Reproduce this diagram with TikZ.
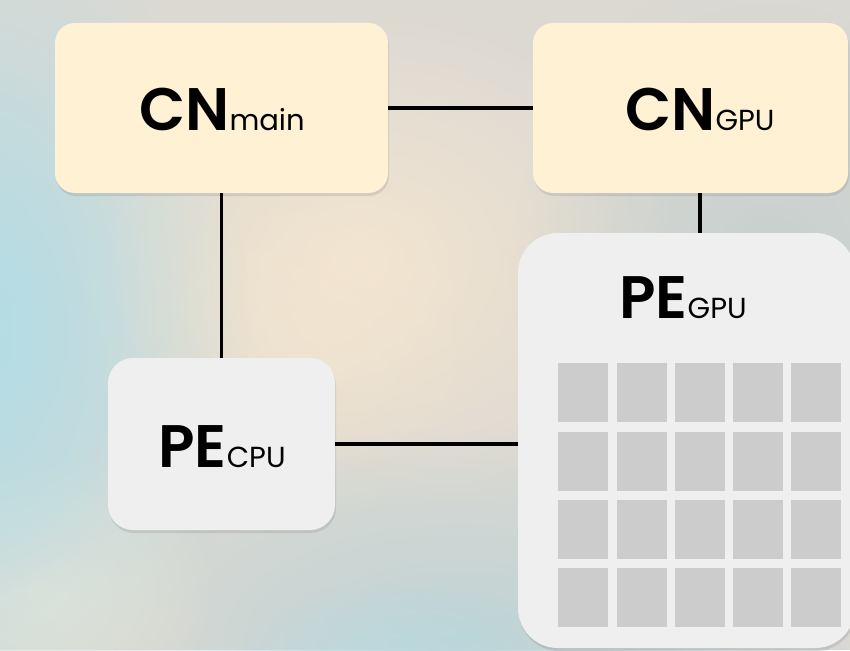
\documentclass[tikz,border=0pt]{standalone}
\usepackage{fontspec}
\setmainfont{Poppins}
\newfontface\popsemi{Poppins SemiBold}
\usetikzlibrary{shadows,fadings,calc}
\tikzfading[name=blobfade, inner color=transparent!0, outer color=transparent!100]
\definecolor{bgbase}{HTML}{DCD9D3}
\definecolor{bgblue}{HTML}{B5DDE5}
\definecolor{bgpeach}{HTML}{F3E5D0}
\definecolor{bgslate}{HTML}{BFD3D5}
\definecolor{bggray}{HTML}{C6D0CF}
\definecolor{bgbeige}{HTML}{ECE5D6}
\definecolor{cncream}{HTML}{FFF2D4}
\definecolor{pefill}{HTML}{EFEFEF}
\definecolor{cellgray}{HTML}{CCCCCC}
\newcommand\mylbl[2]{{\fontsize{60}{60}\popsemi #1}{\fontsize{29}{29}\selectfont #2}}
\begin{document}
\begin{tikzpicture}[x=1pt,y=-1pt,
  blob/.style={path fading=blobfade},
  boxbase/.style={draw=none, inner sep=0pt, outer sep=0pt,
    drop shadow={shadow xshift=1pt, shadow yshift=-3pt, opacity=0.22}},
  cnbox/.style={boxbase, fill=cncream, rounded corners=20pt},
  pebox/.style={boxbase, fill=pefill},
  cell/.style={fill=cellgray, draw=none, inner sep=0pt, minimum width=50pt, minimum height=59pt},
  lbl/.style={anchor=base, inner sep=0pt, text=black},
  link/.style={line width=3.5pt, black}]
\useasboundingbox (0,0) rectangle (850,650);
\clip (0,0) rectangle (850,650);
% background
\fill[bgbase] (0,0) rectangle (850,650);
\fill[bgpeach, blob] (360,260) ellipse [x radius=330, y radius=260];
\fill[bgpeach, blob, opacity=0.7] (320,330) ellipse [x radius=180, y radius=150];
\fill[bggray, blob] (770,270) ellipse [x radius=260, y radius=300];
\fill[bgslate, blob] (460,640) ellipse [x radius=430, y radius=210];
\fill[bgbeige, blob] (40,590) ellipse [x radius=180, y radius=140];
\fill[bgblue, blob] (-30,330) ellipse [x radius=280, y radius=450];
\fill[bgblue, blob, opacity=0.7] (0,330) ellipse [x radius=150, y radius=260];
\fill[bgblue, blob, opacity=0.6] (400,660) ellipse [x radius=170, y radius=80];
% boxes
\node[cnbox, minimum width=333pt, minimum height=170pt] (cnmain) at (221.5,108) {};
\node[cnbox, minimum width=315pt, minimum height=170pt] (cngpu) at (690.5,108) {};
\node[pebox, rounded corners=25pt, minimum width=227pt, minimum height=172pt] (pecpu) at (221.5,444) {};
\node[pebox, rounded corners=40pt, minimum width=337pt, minimum height=415pt] (pegpu) at (686.5,440.5) {};
% grid cells
\foreach \cx [count=\i] in {558,617,675,733,791}{
  \foreach \cy [count=\j] in {363,432,500,568}{
    \node[cell, anchor=north west] (cell-\i-\j) at (\cx,\cy) {};
  }
}
% labels
\node[lbl] (tcnmain) at (222,130) {\mylbl{CN}{main}};
\node[lbl] (tcngpu) at (700,130) {\mylbl{CN}{GPU}};
\node[lbl] (tpecpu) at (222,467) {\mylbl{PE}{CPU}};
\node[lbl] (tpegpu) at (683,318) {\mylbl{PE}{GPU}};
% connectors
\coordinate (gx) at (700,0);
\draw[link] (cnmain.east) -- (cngpu.west);
\draw[link] (cnmain.south) -- (pecpu.north);
\draw[link] (cngpu.south -| gx) -- (pegpu.north -| gx);
\draw[link] (pecpu.east) -- (pecpu.east -| pegpu.west);
\end{tikzpicture}
\end{document}
